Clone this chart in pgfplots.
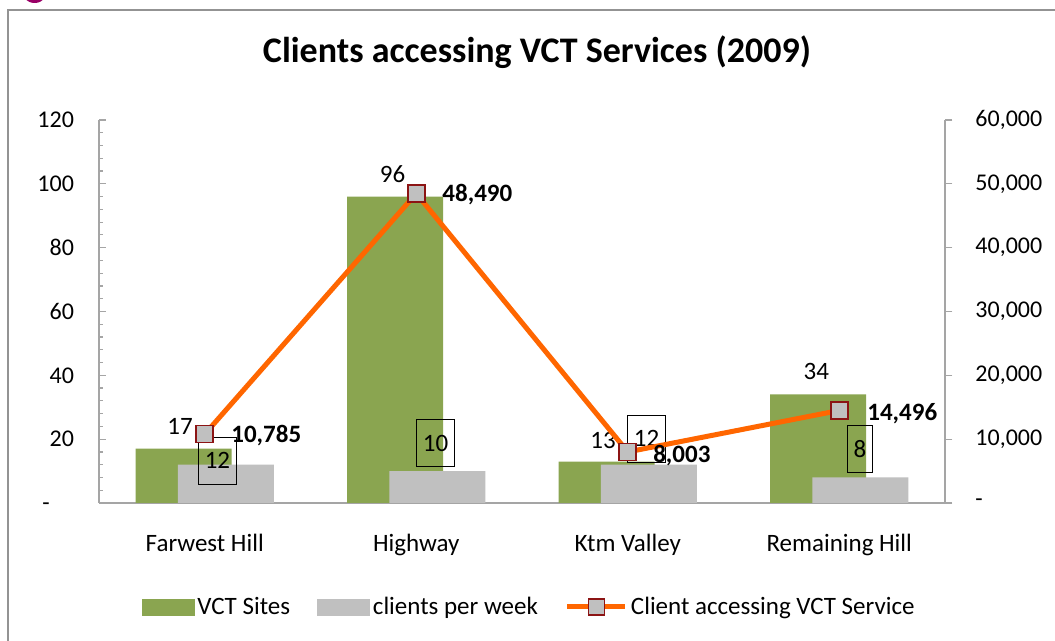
\documentclass[border=0pt]{standalone}
\usepackage{fontspec}
\setmainfont{Carlito}
\usepackage{pgfplots}
\pgfplotsset{compat=1.18}
\definecolor{vctgreen}{RGB}{138,165,80}
\definecolor{barsilver}{RGB}{192,192,192}
\definecolor{lineorange}{RGB}{255,102,0}
\definecolor{markred}{RGB}{140,20,20}
\definecolor{axisgray}{RGB}{165,165,165}
\newcommand{\tickfont}{\fontsize{12}{14}\selectfont}
\newcommand{\xtickfont}{\fontsize{12.5}{15}\selectfont}
\newcommand{\labfont}{\fontsize{12.5}{15}\selectfont}
\newcommand{\blabfont}{\fontsize{12.5}{15}\selectfont\bfseries}
\begin{document}
\begin{tikzpicture}
\path[use as bounding box] (0pt,0pt) rectangle (527.5pt,320.5pt);
\fill[white] (0pt,0pt) rectangle (527.5pt,320.5pt);
\begin{scope}
\clip (0pt,0pt) rectangle (527.5pt,320.5pt);
\fill[violet!60!purple] (17.3pt,325.8pt) circle (6.8pt);
\draw[gray!85, line width=0.8pt] (4pt,-5pt) -- (4pt,315.5pt) -- (535pt,315.5pt);
\end{scope}
\node[font=\fontsize{18}{21}\selectfont\bfseries] at (268.5pt,294.5pt) {Clients accessing VCT Services (2009)};
\begin{axis}[
  at={(49.5pt,69pt)}, anchor=south west, scale only axis,
  width=423pt, height=191.5pt,
  xmin=-0.5, xmax=3.5, ymin=0, ymax=120,
  axis x line*=bottom, axis y line*=left,
  axis line style={draw=axisgray, line width=0.8pt, -},
  xtick={0,1,2,3},
  xticklabels={Farwest Hill, Highway, Ktm Valley, Remaining Hill},
  x tick style={draw=none},
  ytick={0,20,...,120},
  yticklabels={{-\phantom{00}},20,40,60,80,100,120},
  minor y tick num=4,
  y tick style={draw=axisgray, line width=0.6pt},
  major tick length=3.7pt, minor tick length=2.2pt,
  tick align=inside,
  yticklabel style={font=\tickfont, xshift=-9pt},
  xticklabel style={font=\xtickfont, yshift=-12pt},
  clip=false,
]
\addplot[ybar, bar width=0.454, bar shift=-0.1, fill=vctgreen, draw=none]
  coordinates {(0,17) (1,96) (2,13) (3,34)};
\addplot[ybar, bar width=0.454, bar shift=0.1, fill=barsilver, draw=none]
  coordinates {(0,12) (1,10) (2,12) (3,8)};
% labels of VCT Sites
\node[font=\labfont, inner sep=0pt] at (axis cs:-0.117,24.1) {17};
\node[font=\labfont, inner sep=0pt] at (axis cs:0.888,103) {96};
\node[font=\labfont, inner sep=0pt] at (axis cs:1.883,19.7) {13};
\node[font=\labfont, inner sep=0pt] at (axis cs:2.892,41.2) {34};
% labels of clients per week
\tikzset{boxlab/.style={draw=black, line width=0.5pt, font=\labfont, inner xsep=3pt, inner ysep=0pt, minimum height=23.5pt}}
\node[boxlab] at (axis cs:0.060,13.3) {12};
\node[boxlab] at (axis cs:1.091,18.65) {10};
\node[boxlab] at (axis cs:2.089,20.2) {12};
\node[boxlab] at (axis cs:3.098,16.8) {8};
\end{axis}
\begin{axis}[
  at={(49.5pt,69pt)}, anchor=south west, scale only axis,
  width=423pt, height=191.5pt,
  xmin=-0.5, xmax=3.5, ymin=0, ymax=60000,
  hide x axis, axis y line*=right,
  axis line style={draw=axisgray, line width=0.8pt, -},
  ytick={0,10000,...,60000},
  yticklabels={-,{10,000},{20,000},{30,000},{40,000},{50,000},{60,000}},
  scaled y ticks=false,
  y tick style={draw=axisgray, line width=0.6pt},
  major tick length=3.7pt,
  tick align=outside,
  yticklabel style={font=\tickfont, xshift=8pt},
  clip=false,
  legend columns=3,
  legend style={at={(0.509,-0.2715)}, anchor=center, draw=none, fill=none,
    font=\xtickfont, nodes={inner sep=1.5pt},
    /tikz/every even column/.append style={column sep=12pt}},
]
\addlegendimage{legend image code/.code={\fill[vctgreen] (0pt,-4pt) rectangle (26pt,4pt);}}
\addlegendentry{VCT Sites}
\addlegendimage{legend image code/.code={\fill[barsilver] (0pt,-4pt) rectangle (26pt,4pt);}}
\addlegendentry{clients per week}
\addplot[lineorange, line width=2.5pt, mark=square*, mark size=4.25pt,
  mark options={fill=barsilver, draw=markred, line width=0.8pt},
  legend image code/.code={\draw[lineorange, line width=2.5pt] (0pt,0pt) -- (29pt,0pt);
    \draw[markred, fill=barsilver, line width=0.8pt] (10.5pt,-4pt) rectangle (18.5pt,4pt);}]
  coordinates {(0,10785) (1,48490) (2,8003) (3,14496)};
\addlegendentry{Client accessing VCT Service}
\node[font=\blabfont, inner sep=0pt, anchor=west] at (axis cs:0.124,10500) {10,785};
\node[font=\blabfont, inner sep=0pt, anchor=west] at (axis cs:1.122,48276) {48,490};
\node[font=\blabfont, inner sep=0pt, anchor=west] at (axis cs:2.119,7445) {8,003};
\node[font=\blabfont, inner sep=0pt, anchor=west] at (axis cs:3.131,14028) {14,496};
\end{axis}
\end{tikzpicture}
\end{document}
